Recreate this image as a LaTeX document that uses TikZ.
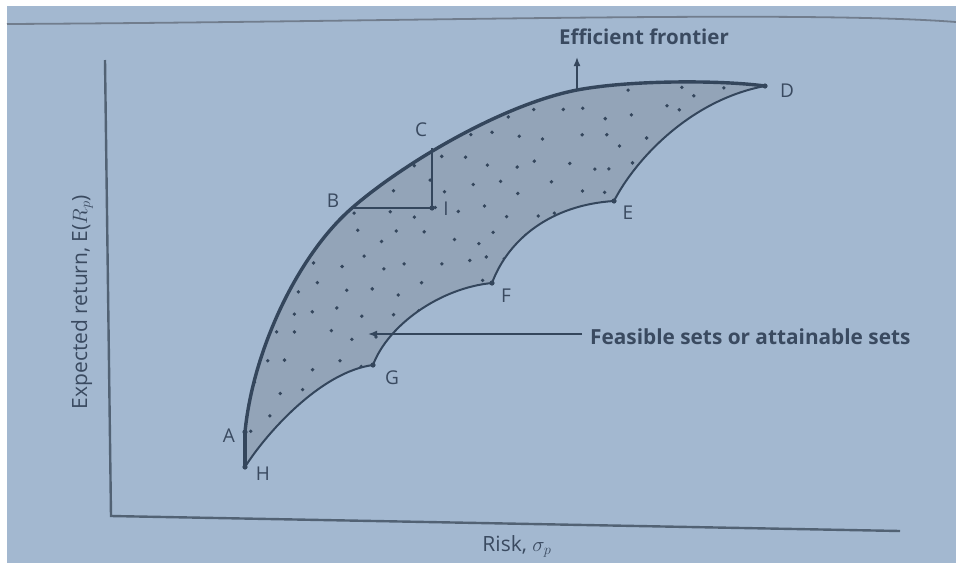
\documentclass[tikz,border=0pt]{standalone}
\usepackage{fontspec}
\setmainfont{Open Sans}
\usetikzlibrary{arrows.meta}
\definecolor{bgc}{HTML}{A3B8D0}
\definecolor{regc}{HTML}{93A4B8}
\definecolor{inkc}{HTML}{34465C}
\definecolor{txtc}{HTML}{3A4A60}
\tikzset{
  lbl/.style={text=txtc, font=\fontsize{19}{19}\selectfont, inner sep=0pt},
  pt/.style={fill=inkc, draw=none},
  frontier/.style={draw=inkc, line width=3.4pt, line cap=round, line join=round},
  bound/.style={draw=inkc, line width=2pt, line join=miter},
  axis/.style={draw=inkc!85, line width=2.4pt},
  pointer/.style={draw=inkc, line width=1.6pt, -{Latex[length=9pt,width=7pt]}},
}
\begin{document}
\begin{tikzpicture}[x=1pt,y=-1pt]
\useasboundingbox (0,0) rectangle (956,563);
\fill[white] (0,0) rectangle (956,563);
\fill[bgc] (7,6) rectangle (956,563);
% page edge
\draw[inkc!70, line width=1.8pt] (7,24) .. controls (400,22) and (800,10) .. (956,22);
% axes
\coordinate (ytop) at (105,60);
\coordinate (orig) at (111,516);
\coordinate (xend) at (900,531);
\draw[axis] (ytop) -- (orig) -- (xend);
% key points
\coordinate (A) at (245,432);
\coordinate (H) at (245,467);
\coordinate (B) at (352,208);
\coordinate (C) at (432,148);
\coordinate (I) at (432,208);
\coordinate (D) at (765,86);
\coordinate (E) at (614,201);
\coordinate (F) at (492,283);
\coordinate (G) at (373,365);
\coordinate (T) at (577,90);
% region
\def\upper{(A) .. controls (253,350) and (298,255) .. (B)
  .. controls (400,166) and (500,105) .. (T)
  .. controls (630,80) and (720,80) .. (D)}
\def\lower{(D) .. controls (690,100) and (635,160) .. (E)
  .. controls (550,205) and (508,240) .. (F)
  .. controls (440,288) and (388,325) .. (G)
  .. controls (320,372) and (265,435) .. (H)}
\fill[regc] \upper -- \lower -- cycle;
\begin{scope}
\clip \upper -- \lower -- cycle;
\pgfmathsetseed{11}
\foreach \i in {0,...,20}{
  \foreach \j in {0,...,14}{
    \pgfmathsetmacro{\px}{250+\i*25+(mod(\j,2))*12+rand*8}
    \pgfmathsetmacro{\py}{88+\j*25+rand*8}
    \fill[inkc] (\px,\py) circle (1.9);
  }
}
\end{scope}
% boundaries
\draw[bound] \lower;
\draw[frontier] \upper;
\draw[frontier] (A) -- (H);
\draw[inkc, line width=1.6pt] (B) -- (I) -- (C);
% points
\foreach \p in {A,H,D,E,F,G,I}{\fill[pt] (\p) circle (2.6);}
% labels
\node[lbl] (lA) at (229,436) {A};
\node[lbl] (lH) at (263,474) {H};
\node[lbl] (lB) at (333,201) {B};
\node[lbl] (lC) at (421,130) {C};
\node[lbl] (lI) at (446,209) {I};
\node[lbl] (lD) at (787,91) {D};
\node[lbl] (lE) at (628,213) {E};
\node[lbl] (lF) at (506,296) {F};
\node[lbl] (lG) at (392,378) {G};
% efficient frontier arrow
\node[lbl, font=\bfseries\fontsize{20.5}{20.5}\selectfont] (ef) at (644,37) {Efficient frontier};
\coordinate (efbase) at (577,89);
\coordinate (eftip) at (577,57);
\draw[pointer] (efbase) -- (eftip);
% feasible arrow
\node[lbl, font=\bfseries\fontsize{20.8}{20.8}\selectfont, anchor=west] (fs) at (590,337) {Feasible sets or attainable sets};
\coordinate (fsbase) at (582,334);
\coordinate (fstip) at (368,334);
\draw[pointer] (fsbase) -- (fstip);
% axis labels
\node[lbl, font=\fontsize{21}{21}\selectfont] (xl) at (517,546) {Risk, $\sigma_p$};
\node[lbl, font=\fontsize{21}{21}\selectfont, rotate=90] (yl) at (82,302) {Expected return, E($R_p$)};
\end{tikzpicture}
\end{document}
